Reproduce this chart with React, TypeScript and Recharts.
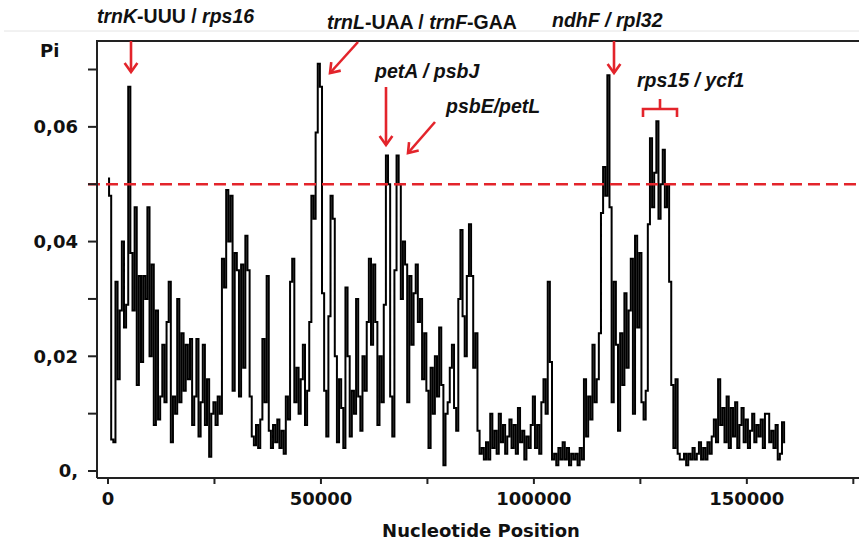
import React from 'react';
import { LineChart, Line, XAxis, YAxis, ReferenceLine } from 'recharts';

// Sliding-window nucleotide diversity (Pi), window step in bp
const WINDOW_STEP = 500;
const PI_VALUES = [
  0.051, 0.048, 0.0055, 0.005, 0.033, 0.016, 0.028, 0.040, 0.025, 0.029,
  0.067, 0.038, 0.028, 0.046, 0.015, 0.034, 0.019, 0.034, 0.030, 0.046,
  0.020, 0.036, 0.008, 0.028, 0.009, 0.013, 0.022, 0.012, 0.026, 0.033,
  0.005, 0.013, 0.010, 0.030, 0.012, 0.024, 0.014, 0.022, 0.016, 0.023,
  0.008, 0.013, 0.023, 0.006, 0.012, 0.022, 0.008, 0.016, 0.0025, 0.010,
  0.012, 0.008, 0.013, 0.010, 0.037, 0.032, 0.049, 0.040, 0.048, 0.014,
  0.038, 0.035, 0.013, 0.036, 0.018, 0.041, 0.035, 0.013, 0.006, 0.0045,
  0.008, 0.004, 0.009, 0.023, 0.012, 0.034, 0.007, 0.004, 0.008, 0.005,
  0.009, 0.004, 0.007, 0.003, 0.013, 0.009, 0.033, 0.037, 0.012, 0.018,
  0.010, 0.016, 0.022, 0.008, 0.014, 0.026, 0.048, 0.044, 0.059, 0.071,
  0.067, 0.031, 0.014, 0.006, 0.027, 0.048, 0.044, 0.020, 0.005, 0.016,
  0.011, 0.004, 0.032, 0.020, 0.006, 0.014, 0.010, 0.030, 0.013, 0.007,
  0.020, 0.014, 0.026, 0.037, 0.022, 0.036, 0.026, 0.008, 0.020, 0.012,
  0.029, 0.055, 0.050, 0.013, 0.006, 0.035, 0.055, 0.050, 0.030, 0.040,
  0.036, 0.012, 0.034, 0.022, 0.031, 0.036, 0.026, 0.030, 0.016, 0.024,
  0.014, 0.004, 0.018, 0.010, 0.020, 0.013, 0.025, 0.015, 0.001, 0.010,
  0.012, 0.018, 0.022, 0.011, 0.007, 0.030, 0.042, 0.027, 0.020, 0.034,
  0.043, 0.034, 0.018, 0.024, 0.007, 0.003, 0.004, 0.002, 0.005, 0.002,
  0.010, 0.004, 0.007, 0.003, 0.010, 0.005, 0.008, 0.003, 0.006, 0.009,
  0.004, 0.008, 0.003, 0.011, 0.005, 0.007, 0.002, 0.006, 0.004, 0.008,
  0.013, 0.004, 0.008, 0.003, 0.012, 0.016, 0.010, 0.033, 0.019, 0.002,
  0.003, 0.001, 0.004, 0.002, 0.005, 0.002, 0.004, 0.001, 0.003, 0.002,
  0.003, 0.001, 0.004, 0.002, 0.016, 0.006, 0.013, 0.009, 0.022, 0.012,
  0.016, 0.024, 0.045, 0.053, 0.048, 0.069, 0.046, 0.012, 0.033, 0.022,
  0.007, 0.024, 0.015, 0.031, 0.018, 0.028, 0.037, 0.010, 0.041, 0.025,
  0.038, 0.012, 0.009, 0.014, 0.043, 0.058, 0.046, 0.052, 0.061, 0.044,
  0.050, 0.056, 0.046, 0.050, 0.033, 0.015, 0.004, 0.016, 0.003, 0.002,
  0.002, 0.003, 0.001, 0.003, 0.002, 0.004, 0.002, 0.003, 0.005, 0.002,
  0.004, 0.002, 0.005, 0.003, 0.006, 0.009, 0.005, 0.016, 0.008, 0.011,
  0.005, 0.013, 0.004, 0.011, 0.006, 0.012, 0.004, 0.008, 0.011, 0.005,
  0.009, 0.004, 0.007, 0.010, 0.005, 0.008, 0.006, 0.009, 0.004, 0.010,
  0.010, 0.005, 0.007, 0.004, 0.008, 0.002, 0.003, 0.0085, 0.005,
];

const X_TICKS = [0, 25000, 50000, 75000, 100000, 125000, 150000, 175000];
const X_TICK_LABELS = ['0', '', '50000', '', '100000', '', '150000', ''];
const Y_TICKS = [0, 0.01, 0.02, 0.03, 0.04, 0.05, 0.06, 0.07];
const Y_TICK_LABELS = ['0,', '', '0,02', '', '0,04', '', '0,06', ''];
const THRESHOLD = 0.05;
const X_DOMAIN: [number, number] = [-2583, 176335];
const Y_DOMAIN: [number, number] = [-0.00122, 0.07497];

const RED = '#e3242b';
const AXIS = '#222';
const TICK_FONT = "'DejaVu Sans', Verdana, sans-serif";
const NOTE_FONT = "'Liberation Sans', Arial, sans-serif";

const rows = PI_VALUES.map((pi, i) => ({ pos: i * WINDOW_STEP, pi }));

function Arrow({ x1, y1, x2, y2 }: { x1: number; y1: number; x2: number; y2: number }) {
  const ang = Math.atan2(y2 - y1, x2 - x1);
  const L = 11;
  const a = 0.62;
  const w1x = x2 - L * Math.cos(ang - a);
  const w1y = y2 - L * Math.sin(ang - a);
  const w2x = x2 - L * Math.cos(ang + a);
  const w2y = y2 - L * Math.sin(ang + a);
  return (
    <g stroke={RED} strokeWidth={2.6} fill="none">
      <line x1={x1} y1={y1} x2={x2} y2={y2} />
      <polyline points={`${w1x},${w1y} ${x2},${y2} ${w2x},${w2y}`} />
    </g>
  );
}

function Overlay() {
  const noteStyle = { fontFamily: NOTE_FONT, fontWeight: 700, fontSize: 19.5, fill: '#111' } as const;
  return (
    <svg
      width={859}
      height={544}
      style={{ position: 'absolute', left: 0, top: 0, pointerEvents: 'none' }}
    >
      <line x1={4} y1={31} x2={859} y2={31} stroke="#e4e4e4" strokeWidth={1} />
      <line x1={96} y1={41} x2={859} y2={41} stroke={AXIS} strokeWidth={2} />
      <text x={40} y={57} style={{ fontFamily: TICK_FONT, fontWeight: 700, fontSize: 18, fill: '#111' }}>Pi</text>
      <text x={481} y={537} textAnchor="middle" style={{ fontFamily: TICK_FONT, fontWeight: 700, fontSize: 18, fill: '#111' }}>
        Nucleotide Position
      </text>

      <text x={97} y={23} style={noteStyle}>
        <tspan fontStyle="italic">trnK</tspan>-UUU / <tspan fontStyle="italic">rps16</tspan>
      </text>
      <text x={327} y={29} style={noteStyle}>
        <tspan fontStyle="italic">trnL</tspan>-UAA / <tspan fontStyle="italic">trnF</tspan>-GAA
      </text>
      <text x={552} y={27} style={noteStyle}>
        <tspan fontStyle="italic">ndhF / rpl32</tspan>
      </text>
      <text x={375} y={78} style={noteStyle}>
        <tspan fontStyle="italic">petA / psbJ</tspan>
      </text>
      <text x={446} y={113} style={noteStyle}>
        <tspan fontStyle="italic">psbE/petL</tspan>
      </text>
      <text x={637} y={87} style={noteStyle}>
        <tspan fontStyle="italic">rps15 / ycf1</tspan>
      </text>

      <Arrow x1={131} y1={41} x2={131} y2={72} />
      <Arrow x1={358} y1={42} x2={330} y2={73} />
      <Arrow x1={386} y1={87} x2={386} y2={145} />
      <Arrow x1={435} y1={122} x2={408} y2={153} />
      <Arrow x1={614} y1={41} x2={614} y2={73} />
      <polyline
        points="643,117 643,109 677,109 677,117"
        stroke={RED}
        strokeWidth={2.6}
        fill="none"
      />
      <line x1={660} y1={109} x2={660} y2={99} stroke={RED} strokeWidth={2.6} />
    </svg>
  );
}

export default function App() {
  return (
    <div style={{ position: 'absolute', left: 0, top: 0, width: 859, height: 544, background: '#fff' }}>
      <LineChart
        width={859}
        height={544}
        data={rows}
        margin={{ top: 41, right: 0, left: 0, bottom: 0 }}
      >
        <XAxis
          dataKey="pos"
          type="number"
          domain={X_DOMAIN}
          allowDataOverflow
          ticks={X_TICKS}
          interval={0}
          height={66}
          tickSize={6}
          tickMargin={8}
          axisLine={{ stroke: AXIS, strokeWidth: 2 }}
          tickLine={{ stroke: AXIS, strokeWidth: 2 }}
          tick={{ fill: '#111', fontSize: 18, fontWeight: 700, fontFamily: TICK_FONT }}
          tickFormatter={(v: number) => {
            const k = X_TICKS.indexOf(v);
            return k >= 0 ? X_TICK_LABELS[k] : '';
          }}
        />
        <YAxis
          type="number"
          domain={Y_DOMAIN}
          allowDataOverflow
          ticks={Y_TICKS}
          interval={0}
          width={97}
          tickSize={9}
          tickMargin={10}
          axisLine={{ stroke: AXIS, strokeWidth: 2 }}
          tickLine={{ stroke: AXIS, strokeWidth: 2 }}
          tick={{ fill: '#111', fontSize: 18, fontWeight: 700, fontFamily: TICK_FONT }}
          tickFormatter={(v: number) => {
            const k = Y_TICKS.indexOf(v);
            return k >= 0 ? Y_TICK_LABELS[k] : '';
          }}
        />
        <Line
          type="step"
          dataKey="pi"
          stroke="#000"
          strokeWidth={2}
          dot={false}
          activeDot={false}
          isAnimationActive={false}
        />
        <ReferenceLine
          segment={[
            { x: -4700, y: THRESHOLD },
            { x: X_DOMAIN[1], y: THRESHOLD },
          ]}
          ifOverflow="visible"
          stroke={RED}
          strokeWidth={2.6}
          strokeDasharray="12 6"
        />
      </LineChart>
      <Overlay />
    </div>
  );
}
